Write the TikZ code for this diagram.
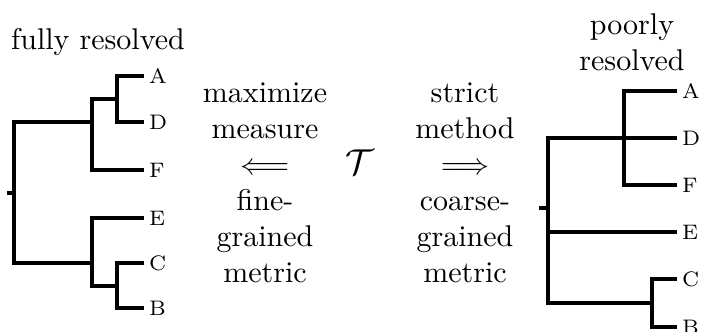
\documentclass[tikz,border=0pt]{standalone}
\usepackage{amsmath}
\usepackage{tikz}
\usetikzlibrary{positioning}

\begin{document}
\begin{tikzpicture}[x=0.3333pt, y=-0.3333pt,
          br/.style={line width=1.3pt},
          leaf/.style={anchor=west, font=\scriptsize, inner sep=1.5pt},
          txt/.style={align=center, inner sep=0pt}]
        \useasboundingbox (0,0) rectangle (701,331);
        % fully resolved tree
        \node[txt] (ltitle) at (98,42) {fully resolved};
        \node[leaf] (lA) at (144,76) {A};
        \node[leaf] (lD) at (144,122) {D};
        \node[leaf] (lF) at (144,170) {F};
        \node[leaf] (lE) at (144,218) {E};
        \node[leaf] (lC) at (144,263) {C};
        \node[leaf] (lB) at (144,308) {B};
        \coordinate (lstub) at (7,193);
        \coordinate (lroot) at (14,193);
        \coordinate (lu1) at (92,122);
        \coordinate (lu2) at (117,99);
        \coordinate (ll1) at (92,263);
        \coordinate (ll2) at (117,286);
        \draw[br] (lstub) -- (lroot);
        \draw[br] (lroot) |- (lu1);
        \draw[br] (lroot) |- (ll1);
        \draw[br] (lu1) |- (lu2);
        \draw[br] (lu1) |- (lF.west);
        \draw[br] (lu2) |- (lA.west);
        \draw[br] (lu2) |- (lD.west);
        \draw[br] (ll1) |- (lE.west);
        \draw[br] (ll1) |- (ll2);
        \draw[br] (ll2) |- (lC.west);
        \draw[br] (ll2) |- (lB.west);
        % middle
        \node[txt] (left) at (265,183) {maximize\\measure\\$\Longleftarrow$\\fine-\\grained\\metric};
        \node[txt] (mid) at (360,162) {\large $\mathcal{T}$};
        \node[txt] (right) at (465,183) {strict\\method\\$\Longrightarrow$\\coarse-\\grained\\metric};
        % poorly resolved tree
        \node[txt] (rtitle) at (632,42) {poorly\\resolved};
        \node[leaf] (rA) at (677,91) {A};
        \node[leaf] (rD) at (677,138) {D};
        \node[leaf] (rF) at (677,185) {F};
        \node[leaf] (rE) at (677,232) {E};
        \node[leaf] (rC) at (677,279) {C};
        \node[leaf] (rB) at (677,327) {B};
        \coordinate (rstub) at (539,208);
        \coordinate (rroot) at (548,208);
        \coordinate (ru1) at (624,138);
        \coordinate (rl1) at (652,303);
        \draw[br] (rstub) -- (rroot);
        \draw[br] (rroot) |- (rD.west);
        \draw[br] (rroot) |- (rE.west);
        \draw[br] (rroot) |- (rl1);
        \draw[br] (ru1) |- (rA.west);
        \draw[br] (ru1) |- (rF.west);
        \draw[br] (rl1) |- (rC.west);
        \draw[br] (rl1) |- (rB.west);
      \end{tikzpicture}
\end{document}
